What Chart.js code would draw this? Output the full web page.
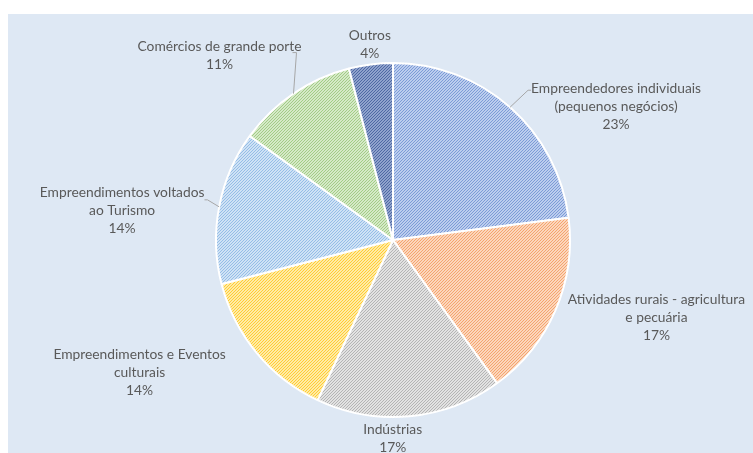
<!DOCTYPE html>
<html>
<head>
<meta charset="utf-8">
<script src="https://cdn.jsdelivr.net/npm/chart.js@4/dist/chart.umd.min.js"></script>
<style>
  html, body { margin: 0; padding: 0; background: #ffffff; }
  #wrap { position: absolute; left: 8px; top: 14px; width: 745px; height: 439px; background: #dee8f4; }
</style>
</head>
<body>
<div id="wrap"><canvas id="pie" width="745" height="439"></canvas></div>
<script>
// categories and shares (%)
var categories = [
  ['Empreendedores individuais', '(pequenos negócios)'],
  ['Atividades rurais - agricultura', 'e pecuária'],
  ['Indústrias'],
  ['Empreendimentos e Eventos', 'culturais'],
  ['Empreendimentos voltados', 'ao Turismo'],
  ['Comércios de grande porte'],
  ['Outros']
];
var shares = [23, 17, 17, 14, 14, 11, 4];

// hatch colours: [line, background]
var hatchColors = [
  ['#7c9bd6', '#bccdee'],
  ['#f4a46e', '#fcd6bc'],
  ['#b4b4b4', '#e2e2e2'],
  ['#ffcc33', '#ffeba6'],
  ['#95bde6', '#cfe2f5'],
  ['#a2cc86', '#d5e9c7'],
  ['#4e68a3', '#8fa2cc']
];

// label block offset from the arc edge at mid angle, and which ones get a leader line
var labelShift = [[106, -1], [101, 7], [-17, 22], [-117, 20], [-97, 4], [-74, -38], [-1, -20]];
var leaderSide = ['left', null, null, null, 'right', 'bottomright', null];

// 3px upward diagonal hatch
function hatch(fg, bg) {
  var c = document.createElement('canvas');
  c.width = 3; c.height = 3;
  var x = c.getContext('2d');
  for (var i = 0; i < 3; i++) {
    for (var j = 0; j < 3; j++) {
      x.fillStyle = (i + j) % 3 === 2 ? fg : bg;
      x.fillRect(i, j, 1, 1);
    }
  }
  return x.createPattern(c, 'repeat');
}

var ctx = document.getElementById('pie').getContext('2d');
var fills = hatchColors.map(function (h) { return hatch(h[0], h[1]); });

var FONT = '13.8px Lato, "Open Sans", sans-serif';
var LINE_H = 18;

var outsideLabels = {
  id: 'outsideLabels',
  afterDatasetsDraw: function (chart) {
    var c = chart.ctx;
    var arcs = chart.getDatasetMeta(0).data;
    c.save();
    c.font = FONT;
    c.fillStyle = '#595959';
    c.textAlign = 'center';
    c.textBaseline = 'middle';
    arcs.forEach(function (arc, i) {
      var mid = (arc.startAngle + arc.endAngle) / 2;
      var ex = arc.x + Math.cos(mid) * arc.outerRadius;
      var ey = arc.y + Math.sin(mid) * arc.outerRadius;
      var lines = categories[i].concat([shares[i] + '%']);
      var cx = ex + labelShift[i][0];
      var cy = ey + labelShift[i][1];
      var top = cy - (lines.length - 1) * LINE_H / 2;
      lines.forEach(function (t, k) {
        c.fillText(t, cx, top + k * LINE_H);
      });
      var side = leaderSide[i];
      if (side) {
        var fw = c.measureText(lines[0]).width;
        var lx, ly, hx;
        if (side === 'left') { lx = cx - fw / 2 - 3; ly = top + 2; hx = lx + 3; }
        else if (side === 'right') { lx = cx + fw / 2 + 3; ly = top + 7; hx = lx - 3; }
        else { lx = cx + fw / 2 - 5; ly = top + 6; hx = lx - 4; }
        c.strokeStyle = '#a6a6a6';
        c.lineWidth = 1;
        c.beginPath();
        c.moveTo(ex, ey);
        c.lineTo(lx, ly);
        c.lineTo(hx, ly);
        c.stroke();
      }
    });
    c.restore();
  }
};

new Chart(ctx, {
  type: 'pie',
  data: {
    labels: categories.map(function (l) { return l.join(' '); }),
    datasets: [{
      data: shares,
      backgroundColor: fills,
      borderColor: '#ffffff',
      borderWidth: 2,
      hoverOffset: 0
    }]
  },
  options: {
    responsive: false,
    animation: false,
    radius: 177,
    layout: { padding: { top: 49, bottom: 36, left: 208, right: 183 } },
    plugins: {
      legend: { display: false },
      tooltip: { enabled: false }
    }
  },
  plugins: [outsideLabels]
});
</script>
</body>
</html>
